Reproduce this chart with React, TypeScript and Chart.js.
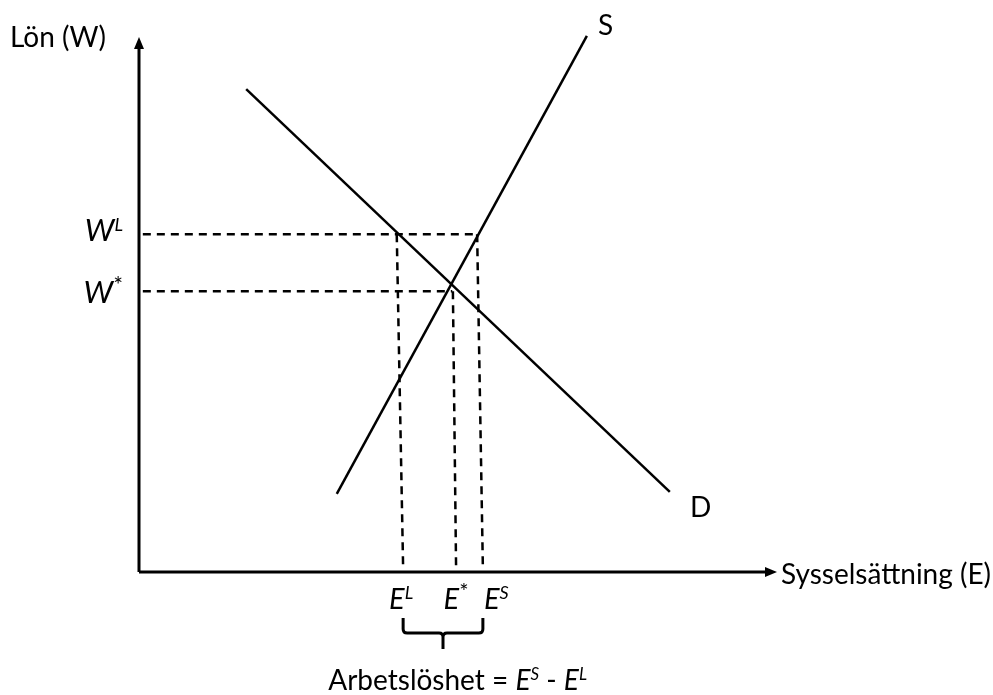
import React, { useEffect, useRef } from "react";
import { Chart, registerables } from "chart.js";

Chart.register(...registerables);

// ---- data (chart units: x = employment, y = wage) ----
const supplyLine = [
  { x: 31.0, y: 14.4 },
  { x: 70.2, y: 98.9 },
];
const demandLine = [
  { x: 16.8, y: 89.1 },
  { x: 83.2, y: 14.8 },
];
const wageMin = 62.3; // W^L
const wageEq = 51.8; // W*
const wageMinEnd = 53.1;
const wageEqEnd = 49.1;
const dashStartX = 0.6;
const dashBottomY = 0.7;
const empL = [40.4, 41.4]; // top, bottom
const empEq = [49.2, 49.7];
const empS = [53.0, 53.9];
const xAxisEnd = 100;
const yAxisEnd = 98.7;

const FONT = "Lato, 'Open Sans', sans-serif";

type Part = { t: string; italic?: boolean; sup?: boolean };

function drawRich(
  ctx: CanvasRenderingContext2D,
  parts: Part[],
  x: number,
  y: number,
  align: "left" | "center" | "right",
  size = 28,
  supRatio = 0.62
) {
  const supSize = Math.round(size * supRatio);
  const fontOf = (p: Part) =>
    `${p.italic ? "italic " : ""}${p.sup ? supSize : size}px ${FONT}`;
  let total = 0;
  for (const p of parts) {
    ctx.font = fontOf(p);
    total += ctx.measureText(p.t).width;
  }
  let cx = align === "left" ? x : align === "center" ? x - total / 2 : x - total;
  ctx.textAlign = "left";
  ctx.textBaseline = "alphabetic";
  ctx.fillStyle = "#000";
  for (const p of parts) {
    ctx.font = fontOf(p);
    ctx.fillText(p.t, cx, p.sup ? y - size * 0.34 : y);
    cx += ctx.measureText(p.t).width;
  }
}

const annotationPlugin = {
  id: "annotations",
  afterDraw(chart: any) {
    const ctx: CanvasRenderingContext2D = chart.ctx;
    const xs = chart.scales.x;
    const ys = chart.scales.y;
    const px = (v: number) => xs.getPixelForValue(v);
    const py = (v: number) => ys.getPixelForValue(v);
    ctx.save();
    // arrowheads
    ctx.fillStyle = "#000";
    const ax = px(0);
    const ay = py(yAxisEnd);
    ctx.beginPath();
    ctx.moveTo(ax, ay);
    ctx.lineTo(ax - 5, ay + 12);
    ctx.lineTo(ax + 5, ay + 12);
    ctx.closePath();
    ctx.fill();
    const bx = px(xAxisEnd);
    const by = py(0);
    ctx.beginPath();
    ctx.moveTo(bx, by);
    ctx.lineTo(bx - 12, by - 5);
    ctx.lineTo(bx - 12, by + 5);
    ctx.closePath();
    ctx.fill();

    // brace
    const l = px(empL[1]);
    const r = px(empS[1]);
    const mid = (l + r) / 2;
    const top = by + 46;
    const hy = by + 61;
    ctx.strokeStyle = "#000";
    ctx.lineWidth = 3;
    ctx.lineJoin = "round";
    ctx.beginPath();
    ctx.moveTo(l, top);
    ctx.lineTo(l, hy - 4);
    ctx.quadraticCurveTo(l, hy, l + 4, hy);
    ctx.lineTo(mid - 4, hy);
    ctx.quadraticCurveTo(mid, hy, mid, hy + 4);
    ctx.lineTo(mid, hy + 16);
    ctx.moveTo(mid, hy + 4);
    ctx.quadraticCurveTo(mid, hy, mid + 4, hy);
    ctx.lineTo(r - 4, hy);
    ctx.quadraticCurveTo(r, hy, r, hy - 4);
    ctx.lineTo(r, top);
    ctx.stroke();

    // texts
    drawRich(ctx, [{ t: "Lön (W)" }], 10, 47, "left");
    drawRich(ctx, [{ t: "S" }], 598, 35, "left");
    drawRich(ctx, [{ t: "D" }], 690, 517, "left");
    drawRich(ctx, [{ t: "W", italic: true }, { t: "L", italic: true, sup: true }], ax - 16, py(wageMin) + 7, "right", 31, 0.58);
    drawRich(ctx, [{ t: "W", italic: true }, { t: "*", sup: true }], ax - 16, py(wageEq) + 12, "right", 31, 0.75);
    const ey = by + 37;
    drawRich(ctx, [{ t: "E", italic: true }, { t: "L", italic: true, sup: true }], px(empL[1]) - 2, ey, "center", 29);
    drawRich(ctx, [{ t: "E", italic: true }, { t: "*", sup: true }], px(empEq[1]), ey, "center", 29, 0.75);
    drawRich(ctx, [{ t: "E", italic: true }, { t: "S", italic: true, sup: true }], px(empS[1]) + 1, ey, "left", 29);
    drawRich(ctx, [{ t: "Sysselsättning (E)" }], 781, by + 12, "left", 28);
    drawRich(
      ctx,
      [
        { t: "Arbetslöshet = " },
        { t: "E", italic: true },
        { t: "S", italic: true, sup: true },
        { t: " - " },
        { t: "E", italic: true },
        { t: "L", italic: true, sup: true },
      ],
      587,
      690,
      "right",
      28
    );
    ctx.restore();
  },
};

const solid = (data: { x: number; y: number }[], width = 2.5) => ({
  data,
  borderColor: "#000",
  borderWidth: width,
  showLine: true,
  pointRadius: 0,
  fill: false,
});
const dashed = (data: { x: number; y: number }[]) => ({
  ...solid(data, 2.5),
  borderDash: [8, 6],
});

export default function App() {
  const ref = useRef<HTMLCanvasElement | null>(null);
  useEffect(() => {
    if (!ref.current) return;
    const chart = new Chart(ref.current, {
      type: "scatter",
      data: {
        datasets: [
          solid([{ x: 0, y: 0 }, { x: 0, y: yAxisEnd - 1.5 }], 3),
          solid([{ x: 0, y: 0 }, { x: xAxisEnd - 1.5, y: 0 }], 3),
          solid(supplyLine),
          solid(demandLine),
          dashed([{ x: dashStartX, y: wageMin }, { x: wageMinEnd, y: wageMin }]),
          dashed([{ x: dashStartX, y: wageEq }, { x: wageEqEnd, y: wageEq }]),
          dashed([{ x: empL[0], y: wageMin }, { x: empL[1], y: dashBottomY }]),
          dashed([{ x: empEq[0], y: wageEq }, { x: empEq[1], y: dashBottomY }]),
          dashed([{ x: empS[0], y: wageMin }, { x: empS[1], y: dashBottomY }]),
        ] as any,
      },
      options: {
        animation: false,
        responsive: false,
        events: [],
        layout: { padding: { left: 139, right: 216, top: 30, bottom: 123 } },
        plugins: { legend: { display: false }, tooltip: { enabled: false } },
        scales: {
          x: { type: "linear", min: 0, max: 100, display: false },
          y: { type: "linear", min: 0, max: 100, display: false },
        },
        elements: { line: { tension: 0 } },
        datasets: { scatter: { clip: false } } as any,
      },
      plugins: [annotationPlugin],
    });
    return () => chart.destroy();
  }, []);
  return (
    <div style={{ position: "absolute", left: 0, top: 0, width: 993, height: 695, background: "#fff" }}>
      <canvas ref={ref} width={993} height={695} />
    </div>
  );
}
